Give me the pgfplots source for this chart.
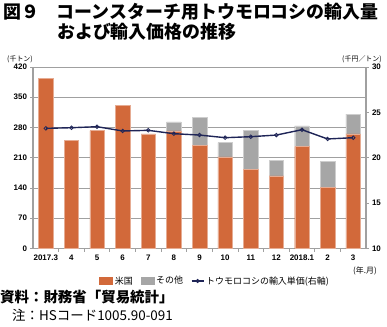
\documentclass[border=0pt]{standalone}
\usepackage{fontspec}
\setmainfont{Noto Sans CJK JP}
\newfontfamily\lib{Liberation Sans}
\usepackage{pgfplots}
\pgfplotsset{compat=1.18}
\definecolor{us}{HTML}{D2693A}
\definecolor{oth}{HTML}{A6A6A6}
\definecolor{ln}{HTML}{1F2557}
\definecolor{gr}{HTML}{A0A0A0}
\pgfplotsset{linelegend/.style={legend image code/.code={\draw[##1,mark=none] (0bp,0bp) -- (12bp,0bp); \draw[##1, only marks] plot coordinates {(6bp,0bp)};}}}
\begin{document}
\begin{tikzpicture}[x=1bp,y=1bp]
\useasboundingbox (0,0) rectangle (387,327);
\begin{axis}[at={(33bp,78.5bp)}, anchor=south west, scale only axis,
  width=333bp, height=181.5bp,
  ybar stacked, bar width=14.5bp,
  xmin=-0.5, xmax=12.5, ymin=0, ymax=420,
  ytick={0,70,...,420},
  xtick={0,...,12},
  xticklabels={2017.3,4,5,6,7,8,9,10,11,12,2018.1,2,3},
  minor xtick={0.5,1.5,...,11.5},
  axis x line*=bottom, axis y line*=left,
  axis line style={gr, line width=1.5bp},
  tick align=outside,
  major tick length=2.5bp, minor tick length=3bp,
  major x tick style={draw=none},
  every tick/.style={gr, line width=0.8bp},
  ymajorgrids, grid style={gr, line width=0.8bp},
  /pgf/number format/assume math mode=true,
  ticklabel style={font=\lib\bfseries\fontsize{8}{9}\selectfont, text=black},
  legend columns=3,
  legend style={at={(0.547,-0.179)}, anchor=center, draw=none, fill=none,
    font=\fontsize{9}{10}\selectfont, /tikz/every even column/.append style={column sep=6bp},
    inner sep=0pt},
  legend cell align=left,
]
\addplot[fill=us, draw=us!55!white, line width=0.4bp,
  legend image code/.code={\fill[us] (0bp,-3.5bp) rectangle (13bp,3.5bp);}]
  coordinates {(0,394) (1,251) (2,273) (3,331) (4,265) (5,272) (6,238) (7,212) (8,183) (9,168) (10,236) (11,141) (12,265)};
\addplot[fill=oth, draw=oth!55!white, line width=0.4bp,
  legend image code/.code={\fill[oth] (0bp,-3.5bp) rectangle (13bp,3.5bp);}]
  coordinates {(0,0) (1,0) (2,0) (3,0) (4,0) (5,21) (6,65) (7,33) (8,91) (9,36) (10,48) (11,60) (12,46)};
\addlegendimage{ln, line width=1.2bp, mark=o, mark size=1.6bp, mark options={fill=white, line width=0.8bp}, linelegend}
\legend{米国,その他,トウモロコシの輸入単価(右軸)}
\end{axis}
\begin{axis}[at={(33bp,78.5bp)}, anchor=south west, scale only axis,
  width=333bp, height=181.5bp,
  xmin=-0.5, xmax=12.5, ymin=10, ymax=30,
  ytick={10,15,...,30},
  axis x line=none, axis y line*=right,
  axis line style={gr, line width=1.5bp},
  tick align=outside, major tick length=2.5bp,
  every tick/.style={gr, line width=0.8bp},
  /pgf/number format/assume math mode=true,
  ticklabel style={font=\lib\bfseries\fontsize{8}{9}\selectfont, text=black},
]
\addplot[ln, line width=1.4bp, mark=o, mark size=1.8bp, mark options={fill=white, line width=0.8bp}]
  coordinates {(0,23.24) (1,23.31) (2,23.42) (3,22.95) (4,23.02) (5,22.65) (6,22.5) (7,22.21) (8,22.32) (9,22.5) (10,23.09) (11,22.07) (12,22.21)};
\end{axis}
\node[anchor=north west, font=\fontsize{18}{20}\selectfont\bfseries, inner sep=0pt] at (3,324) {図９　コーンスターチ用トウモロコシの輸入量};
\node[anchor=north west, font=\fontsize{18}{20}\selectfont\bfseries, inner sep=0pt] at (57,304) {および輸入価格の推移};
\node[font=\fontsize{7}{8}\selectfont, inner sep=0pt] at (20,268) {(千トン)};
\node[font=\fontsize{7}{8}\selectfont, inner sep=0pt] at (362,268) {(千円／トン)};
\node[font=\fontsize{8}{9}\selectfont, inner sep=0pt] at (365,56) {(年.月)};
\node[anchor=west, font=\fontsize{14.5}{16}\selectfont\bfseries, inner sep=0pt] at (0,30) {資料：財務省「貿易統計」};
\node[anchor=west, font=\fontsize{13.5}{15}\selectfont, inner sep=0pt] at (12,12) {注：HSコード1005.90-091};
\end{tikzpicture}
\end{document}
